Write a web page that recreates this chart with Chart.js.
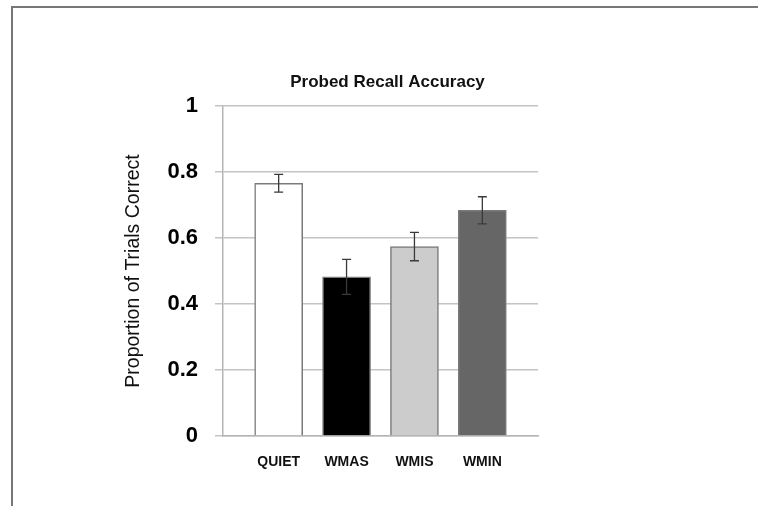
<!DOCTYPE html>
<html>
<head>
<meta charset="utf-8">
<script src="https://cdn.jsdelivr.net/npm/chart.js@4.4.1/dist/chart.umd.min.js"></script>
<style>
    body { margin: 0; background: #fff; overflow: hidden; }
    #wrap { position: relative; width: 758px; height: 506px; }
    #frame { position: absolute; left: 11px; top: 6px; width: 760px; height: 510px;
             border-top: 2px solid #777; border-left: 2px solid #777; pointer-events: none; }
</style>
</head>
<body>
<div id="wrap">
    <canvas id="myChart" width="758" height="506"></canvas>
    <div id="frame"></div>
</div>
<script>

// DATA PARTS

var categories = ['QUIET', 'WMAS', 'WMIS', 'WMIN'];
var accuracy = [0.766, 0.482, 0.574, 0.684];
var errors = [0.027, 0.053, 0.043, 0.041];
var barColors = ['#ffffff', '#000000', '#cccccc', '#666666'];
var yTicks = [0, 0.2, 0.4, 0.6, 0.8, 1];

// PLUGIN PARTS

// error bars drawn on top of the bars, through the y scale
var errorBars = {
    id: 'errorBars',
    afterDatasetsDraw(chart) {
        var ctx = chart.ctx;
        var meta = chart.getDatasetMeta(0);
        var yScale = chart.scales.y;
        ctx.save();
        ctx.strokeStyle = '#3a3a3a';
        ctx.lineWidth = 1.3;
        meta.data.forEach((bar, i) => {
            var x = bar.x;
            var top = yScale.getPixelForValue(accuracy[i] + errors[i]);
            var bottom = yScale.getPixelForValue(accuracy[i] - errors[i]);
            ctx.beginPath();
            ctx.moveTo(x, top);
            ctx.lineTo(x, bottom);
            ctx.moveTo(x - 4.5, top);
            ctx.lineTo(x + 4.5, top);
            ctx.moveTo(x - 4.5, bottom);
            ctx.lineTo(x + 4.5, bottom);
            ctx.stroke();
        });
        ctx.restore();
    }
};

// the title sits a bit right of the plot centre in the original
var titleShift = {
    id: 'titleShift',
    afterLayout(chart) {
        if (chart.titleBlock) {
            chart.titleBlock.left += 7;
            chart.titleBlock.right += 7;
        }
    }
};

// CHART PART

var ctx = document.getElementById('myChart').getContext('2d');
var myChart = new Chart(ctx, {
    type: 'bar',
    data: {
        datasets: [{
            data: accuracy.map((v, i) => ({ x: i, y: v })),
            backgroundColor: barColors,
            borderColor: '#7a7a7a',
            borderWidth: 1.5,
            barThickness: 48
        }]
    },
    options: {
        responsive: false,
        animation: false,
        events: [],
        layout: {
            padding: { left: 0, right: 220, top: 0, bottom: 0 }
        },
        plugins: {
            legend: { display: false },
            tooltip: { enabled: false },
            title: {
                display: true,
                fullSize: false,
                text: 'Probed Recall Accuracy',
                color: '#111',
                font: { family: 'Liberation Sans, Arial, sans-serif', size: 17, weight: 'bold' },
                padding: { top: 72, bottom: 13.6 }
            }
        },
        scales: {
            x: {
                type: 'linear',
                offset: false,
                min: -0.82,
                max: 3.82,
                grid: { display: false, drawTicks: false, tickLength: 0 },
                border: { display: true, color: '#b5b5b5', width: 1.5 },
                afterBuildTicks: (scale) => {
                    scale.ticks = categories.map((c, i) => ({ value: i }));
                },
                afterFit: (scale) => {
                    scale.height = 70;
                },
                ticks: {
                    autoSkip: false,
                    maxRotation: 0,
                    padding: 18,
                    color: '#111',
                    font: { family: 'Liberation Sans, Arial, sans-serif', size: 14, weight: 'bold' },
                    callback: (value) => categories[value]
                }
            },
            y: {
                min: 0,
                max: 1,
                afterBuildTicks: (scale) => {
                    scale.ticks = yTicks.map(v => ({ value: v }));
                },
                afterFit: (scale) => {
                    scale.width = 223;
                },
                grid: { color: '#c4c4c4', lineWidth: 1.5, tickLength: 8 },
                border: { display: true, color: '#b5b5b5', width: 1.5 },
                ticks: {
                    padding: 17,
                    color: '#000',
                    font: { family: 'Liberation Sans, Arial, sans-serif', size: 22, weight: 'bold' },
                    callback: (value) => String(value)
                },
                title: {
                    display: true,
                    text: 'Proportion of Trials Correct',
                    color: '#111',
                    font: { family: 'Liberation Sans, Arial, sans-serif', size: 19.5 },
                    padding: { top: 122, bottom: 4 }
                }
            }
        }
    },
    plugins: [errorBars, titleShift]
});

</script>
</body>
</html>
